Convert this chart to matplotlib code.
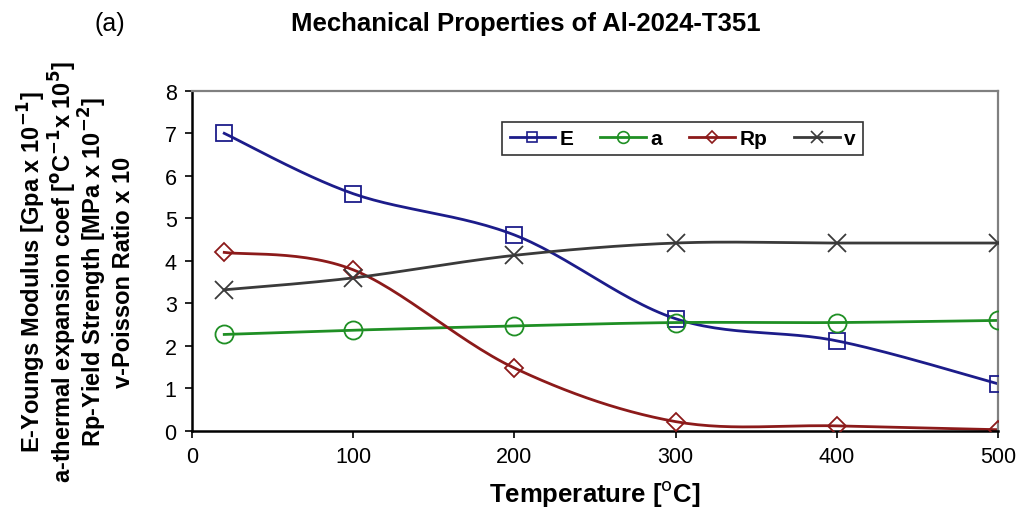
import numpy as np
import matplotlib
matplotlib.use("Agg")
import matplotlib.pyplot as plt

plt.rcParams['font.family'] = ['Liberation Sans', 'DejaVu Sans']

temperature = [20, 100, 200, 300, 400, 500]
E_vals = [7.0, 5.58, 4.61, 2.64, 2.12, 1.11]
a_vals = [2.27, 2.37, 2.47, 2.55, 2.55, 2.6]
Rp_vals = [4.2, 3.79, 1.48, 0.22, 0.12, 0.03]
v_vals = [3.32, 3.6, 4.13, 4.42, 4.42, 4.42]
series_names = ["E", "a", "Rp", "v"]


def smooth(x, y, n=30):
    # catmull-rom through the points, like excel "smoothed line"
    x = np.asarray(x, float)
    y = np.asarray(y, float)
    px = np.concatenate([[x[0]], x, [x[-1]]])
    py = np.concatenate([[y[0]], y, [y[-1]]])
    xs, ys = [], []
    t = np.linspace(0, 1, n)
    for i in range(1, len(px) - 2):
        p0, p1, p2, p3 = (np.array([px[j], py[j]]) for j in range(i - 1, i + 3))
        c1 = p1 + (p2 - p0) / 6
        c2 = p2 - (p3 - p1) / 6
        pts = ((1 - t) ** 3)[:, None] * p1 + (3 * (1 - t) ** 2 * t)[:, None] * c1 \
            + (3 * (1 - t) * t ** 2)[:, None] * c2 + (t ** 3)[:, None] * p2
        xs.extend(pts[:, 0])
        ys.extend(pts[:, 1])
    return np.array(xs), np.array(ys)


fig = plt.figure(figsize=(10.17, 5.10), dpi=100)
ax = fig.add_axes([0.1888, 0.153, 0.7925, 0.667])

styles = [
    (E_vals, "#1c1c8a", "s", 12),
    (a_vals, "#1f8f24", "o", 13),
    (Rp_vals, "#8c1a1a", "D", 9),
    (v_vals, "#3a3a3a", "x", 13),
]
handles = []
for (vals, col, mk, ms), name in zip(styles, series_names):
    sx, sy = smooth(temperature, vals)
    ax.plot(sx, sy, color=col, lw=2, zorder=2)
    ax.plot(temperature, vals, ls="none", marker=mk, ms=ms, mfc="none",
            mec=col, mew=1.3, zorder=3)
    h, = ax.plot([], [], color=col, lw=2, marker=mk, ms=ms * 0.65, mfc="none",
                 mec=col, mew=1.2, label=name)
    handles.append(h)

ax.set_xlim(0, 500)
ax.set_ylim(0, 8)
ax.set_xticks(range(0, 501, 100))
ax.set_yticks(range(0, 9))
ax.tick_params(labelsize=15.5, direction="out", length=5, width=1.2, pad=6)
for s in ["left", "bottom"]:
    ax.spines[s].set_linewidth(1.8)
    ax.spines[s].set_color("black")
for s in ["top", "right"]:
    ax.spines[s].set_linewidth(1.6)
    ax.spines[s].set_color("#808080")

ax.set_xlabel("Temperature [$^{\\mathrm{o}}$C]", fontsize=18.5, fontweight="bold",
              labelpad=8)

leg = ax.legend(handles=handles, ncol=4, loc="upper left",
                bbox_to_anchor=(0.372, 0.94), frameon=True, fancybox=False,
                fontsize=15, handlelength=2.2, columnspacing=1.3,
                handletextpad=0.2, borderpad=0.35)
leg.get_frame().set_edgecolor("black")
leg.get_frame().set_linewidth(1.2)
for t in leg.get_texts():
    t.set_fontweight("bold")

ylabels = [
    "E-Youngs Modulus [Gpa x 10$^{\\mathbf{-1}}$]",
    "a-thermal expansion coef [$^{\\mathbf{o}}$C$^{\\mathbf{-1}}$x 10$^{\\mathbf{5}}$]",
    "Rp-Yield Strength [MPa x 10$^{\\mathbf{-2}}$]",
    "v-Poisson Ratio x 10",
]
for i, lab in enumerate(ylabels):
    fig.text(32 / 1017 + i * 30.5 / 1017, 1 - 272 / 510, lab, rotation=90,
             ha="center", va="center", fontsize=17, fontweight="bold")

fig.text(526 / 1017, 1 - 24 / 510, "Mechanical Properties of Al-2024-T351",
         ha="center", va="center", fontsize=18.5, fontweight="bold")
fig.text(95 / 1017, 1 - 24 / 510, "(a)", ha="left", va="center", fontsize=18)

fig.savefig("out.png", dpi=100)
